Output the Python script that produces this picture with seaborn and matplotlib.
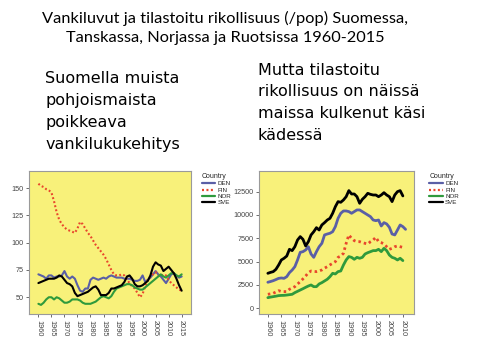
import numpy as np
import pandas as pd
import matplotlib
matplotlib.use("Agg")
import matplotlib.pyplot as plt
import seaborn as sns

# ---------------- data ----------------
countries = ["DEN", "FIN", "NOR", "SVE"]

years_left = list(range(1960, 2016))
den_prison = [71, 70, 69, 67, 70, 70, 68, 69, 69, 70,
              74, 69, 67, 69, 67, 61, 56, 55, 58, 58,
              66, 68, 67, 66, 67, 68, 67, 69, 70, 69,
              68, 68, 68, 67, 67, 67, 66, 65, 65, 66,
              70, 64, 66, 68, 71, 74, 71, 69, 66, 63,
              67, 71, 72, 70, 68, 69]
fin_prison = [154, 152, 151, 149, 148, 146, 138, 128, 121, 117,
              114, 112, 111, 110, 109, 113, 119, 117, 113, 109,
              106, 102, 98, 95, 92, 89, 85, 80, 75, 71,
              70, 70, 71, 70, 66, 63, 60, 58, 54, 50,
              53, 60, 66, 69, 71, 73, 70, 69, 71, 70,
              66, 63, 61, 59, 57, 56]
nor_prison = [44, 43, 45, 48, 50, 50, 48, 50, 49, 47,
              45, 45, 46, 48, 48, 48, 47, 45, 44, 44,
              44, 45, 46, 48, 50, 51, 50, 49, 51, 55,
              58, 59, 60, 61, 62, 62, 61, 59, 58, 57,
              57, 59, 61, 63, 65, 67, 69, 71, 69, 68,
              70, 72, 72, 70, 69, 71]
sve_prison = [63, 64, 65, 66, 67, 67, 67, 68, 70, 69,
              66, 63, 62, 60, 54, 51, 52, 53, 54, 55,
              57, 59, 60, 57, 52, 52, 52, 54, 58, 58,
              59, 60, 61, 64, 69, 70, 67, 62, 60, 60,
              61, 63, 65, 70, 78, 82, 80, 79, 74, 76,
              78, 75, 72, 67, 61, 56]

years_right = list(range(1960, 2012))
den_crime = [2790, 2870, 2960, 3080, 3210, 3250, 3210, 3390, 3820, 4100,
             4460, 5180, 6000, 6070, 6250, 6600, 5820, 5460, 6070, 6600,
             6960, 7860, 7960, 8040, 8210, 8750, 9640, 10180, 10430, 10430,
             10360, 10180, 10360, 10540, 10540, 10360, 10180, 10000, 9820, 9460,
             9390, 9460, 8820, 9180, 9040, 8680, 7960, 7860, 8390, 8930,
             8750, 8460]
fin_crime = [1500, 1550, 1610, 1750, 1890, 1800, 1790, 1790, 2040, 2180,
             2320, 2600, 2860, 3150, 3460, 3820, 4000, 3960, 3930, 4000,
             4110, 4300, 4460, 4650, 4820, 5000, 5460, 5600, 5890, 6960,
             7860, 7500, 7250, 7140, 7140, 7040, 6960, 6890, 7140, 7320,
             7610, 7140, 7040, 6890, 6600, 6320, 6430, 6600, 6680, 6600,
             6530, np.nan]
nor_crime = [1140, 1200, 1250, 1300, 1360, 1380, 1390, 1420, 1460, 1500,
             1680, 1820, 1960, 2100, 2250, 2390, 2500, 2320, 2320, 2610,
             2750, 2930, 3110, 3390, 3750, 3680, 3930, 4000, 4640, 5180,
             5540, 5460, 5250, 5460, 5360, 5460, 5820, 5960, 6070, 6180,
             6180, 6320, 6070, 6430, 6180, 5710, 5460, 5360, 5180, 5360,
             5110, np.nan]
sve_crime = [3750, 3850, 3930, 4180, 4640, 5180, 5360, 5600, 6320, 6180,
             6600, 7320, 7680, 7390, 6680, 7140, 7860, 8210, 8640, 8390,
             8930, 9180, 9460, 9640, 10180, 10890, 11430, 11360, 11610, 11960,
             12610, 12250, 12250, 11960, 11250, 11680, 11960, 12320, 12210, 12140,
             12140, 11960, 12140, 12390, 12140, 11960, 11430, 12140, 12500, 12610,
             12040, np.nan]

left_ticks = [50, 75, 100, 125, 150]
right_ticks = [0, 2500, 5000, 7500, 10000, 12500]
left_xticks = list(range(1960, 2016, 5))
right_xticks = list(range(1960, 2011, 5))

title_text = "Vankiluvut ja tilastoitu rikollisuus (/pop) Suomessa,\nTanskassa, Norjassa ja Ruotsissa 1960-2015"
left_text = "Suomella muista\npohjoismaista\npoikkeava\nvankilukukehitys"
right_text = "Mutta tilastoitu\nrikollisuus on näissä\nmaissa kulkenut käsi\nkädessä"

# ---------------- frames ----------------
def long_frame(years, series):
    rows = []
    for c, vals in zip(countries, series):
        for y, v in zip(years, vals):
            rows.append({"Year": y, "Value": v, "Country": c})
    return pd.DataFrame(rows).dropna()

df_left = long_frame(years_left, [den_prison, fin_prison, nor_prison, sve_prison])
df_right = long_frame(years_right, [den_crime, fin_crime, nor_crime, sve_crime])

palette = {"DEN": "#5a5fa6", "FIN": "#e8462c", "NOR": "#2f9a3c", "SVE": "#000000"}
dashes = {"DEN": "", "FIN": (0.9, 1.1), "NOR": "", "SVE": ""}

sns.set_theme(style="white")
plt.rcParams["font.family"] = ["Liberation Sans", "DejaVu Sans"]

fig = plt.figure(figsize=(4.8, 3.6), dpi=100)
fig.patch.set_facecolor("white")

bg = "#f8f17a"
axL = fig.add_axes([0.061, 0.127, 0.337, 0.399])
axR = fig.add_axes([0.540, 0.127, 0.3235, 0.399])

for ax, df, lw, anchor in [(axL, df_left, 1.5, 1.05), (axR, df_right, 2.0, 1.08)]:
    sns.lineplot(data=df, x="Year", y="Value", hue="Country", style="Country",
                 palette=palette, dashes=dashes, linewidth=lw, ax=ax,
                 legend=True)
    ax.set_facecolor(bg)
    for s in ax.spines.values():
        s.set_color("#9a9a9a")
        s.set_linewidth(0.8)
    ax.set_xlabel("")
    ax.set_ylabel("")
    ax.tick_params(axis="both", which="both", length=2.5, width=0.6,
                   color="#555555", labelsize=5.2, labelcolor="#444444",
                   direction="out", pad=1.5, bottom=True, left=True)
    ax.tick_params(axis="x", labelrotation=-90)
    handles, labels = ax.get_legend_handles_labels()
    ax.legend_.remove()
    leg = ax.legend(handles, labels, title="Country", frameon=False,
                    loc="upper left", bbox_to_anchor=(anchor, 1.0),
                    fontsize=4.5, title_fontsize=5, handlelength=2.2,
                    handletextpad=0.3, labelspacing=0.15, borderaxespad=0.0)
    leg._legend_box.align = "left"
    for line in leg.get_lines():
        line.set_linewidth(1.6)

axL.set_xlim(1956.5, 2018.6)
axL.set_ylim(34.4, 166)
axL.set_xticks(left_xticks)
axL.set_yticks(left_ticks)

axR.set_xlim(1956.8, 2014.3)
axR.set_ylim(-640, 14750)
axR.set_xticks(right_xticks)
axR.set_yticks(right_ticks)

fig.text(0.469, 0.922, title_text, ha="center", va="center", fontsize=11.8,
         family=["Lato", "DejaVu Sans"], linespacing=1.42, color="black")
bodyfam = ["DejaVu Sans"]
fig.text(0.094, 0.69, left_text, ha="left", va="center", fontsize=11.5,
         family=bodyfam, linespacing=1.58, color="black")
fig.text(0.537, 0.714, right_text, ha="left", va="center", fontsize=11.5,
         family=bodyfam, linespacing=1.58, color="black")

fig.savefig("out.png", dpi=100, facecolor="white")
